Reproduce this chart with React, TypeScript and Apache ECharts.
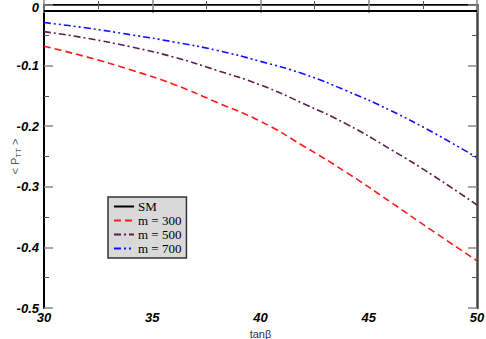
import React, { useEffect, useRef } from "react";
import * as echarts from "echarts";

const tanBeta = [30, 32, 34, 36, 38, 40, 42, 44, 46, 48, 50];
const smValues = [-0.01, -0.01, -0.01, -0.01, -0.01, -0.01, -0.01, -0.01, -0.01, -0.01, -0.01];
const m300 = [-0.068, -0.086, -0.107, -0.131, -0.161, -0.192, -0.233, -0.277, -0.325, -0.374, -0.422];
const m500 = [-0.044, -0.055, -0.069, -0.086, -0.108, -0.132, -0.163, -0.197, -0.238, -0.282, -0.33];
const m700 = [-0.029, -0.038, -0.049, -0.061, -0.075, -0.093, -0.114, -0.142, -0.174, -0.211, -0.252];
const seriesNames = ["SM", "m = 300", "m = 500", "m = 700"];

const pairs = (ys: number[]) => tanBeta.map((x, i) => [x, ys[i]]);

export default function App() {
  const ref = useRef<HTMLDivElement>(null);
  useEffect(() => {
    if (!ref.current) return;
    const chart = echarts.init(ref.current, null, { renderer: "svg" });
    const tickLabel = {
      fontFamily: "Liberation Sans",
      fontWeight: "bold" as const,
      fontStyle: "italic" as const,
      fontSize: 13,
      color: "#000",
    };
    const mkLine = (name: string, data: number[], color: string, type: any, width = 1.6) => ({
      name,
      type: "line",
      data: pairs(data),
      smooth: true,
      symbol: "none",
      lineStyle: { color, width, type },
      itemStyle: { color },
    });
    chart.setOption({
      animation: false,
      grid: { left: 44, right: 9, top: 5, bottom: 31, containLabel: false, outerBoundsMode: "none" },
      legend: {
        orient: "vertical",
        left: 108,
        top: 197,
        itemWidth: 20,
        itemHeight: 10,
        itemGap: 1,
        padding: [3, 5, 3, 5],
        backgroundColor: "#d9d9d9",
        borderColor: "#333",
        borderWidth: 1.5,
        borderRadius: 0,
        itemStyle: { opacity: 0 },
        data: seriesNames,
        textStyle: { fontFamily: "Liberation Serif", fontSize: 13, lineHeight: 12, color: "#000", padding: [0, 0, 0, -1] },
      },
      xAxis: [
        {
          type: "value",
          min: 30,
          max: 50,
          interval: 5,
          name: "tanβ",
          nameLocation: "middle",
          nameGap: 20,
          nameMoveOverlap: false,
          nameTextStyle: { fontFamily: "Liberation Sans", fontSize: 11, color: "#333" },
          axisLine: { lineStyle: { color: "#000", width: 2 } },
          axisTick: { inside: true, length: 8, lineStyle: { color: "#888", width: 1.5 } },
          minorTick: { show: true, splitNumber: 2, length: 4, lineStyle: { color: "#555", width: 1 } },
          axisLabel: { ...tickLabel, margin: 3 },
          splitLine: { show: false },
        },
        {
          type: "value",
          position: "top",
          min: 30,
          max: 50,
          interval: 5,
          axisLine: { show: true, onZero: false, lineStyle: { color: "#444", width: 1 } },
          axisTick: { inside: true, length: 8, lineStyle: { color: "#888", width: 1.5 } },
          minorTick: { show: true, splitNumber: 2, length: 4, lineStyle: { color: "#555", width: 1 } },
          axisLabel: { show: false },
          splitLine: { show: false },
        },
      ],
      yAxis: [
        {
          type: "value",
          min: -0.5,
          max: 0,
          interval: 0.1,
          name: "{a|< P}{s|TT}{a| >}",
          nameLocation: "middle",
          nameRotate: 90,
          nameGap: 22,
          nameMoveOverlap: false,
          nameTextStyle: {
            rich: {
              a: { fontFamily: "Liberation Sans", fontSize: 11, color: "#555" },
              s: { fontFamily: "Liberation Sans", fontSize: 8, color: "#555", verticalAlign: "bottom", padding: [6, 0, 0, 0] },
            },
          },
          axisLine: { onZero: false, lineStyle: { color: "#000", width: 2 } },
          axisTick: { inside: true, length: 9, lineStyle: { color: "#888", width: 1.5 } },
          minorTick: { show: true, splitNumber: 2, length: 5, lineStyle: { color: "#555", width: 1 } },
          axisLabel: {
            ...tickLabel,
            margin: 5,
            formatter: (v: number) => (Math.abs(v) < 1e-9 ? "{z|0}" : v.toFixed(1)),
            rich: {
              z: { ...tickLabel, padding: [4, 0, 0, 0] },
            },
          },
          splitLine: { show: false },
        },
        {
          type: "value",
          position: "right",
          min: -0.5,
          max: 0,
          interval: 0.1,
          axisLine: { show: true, onZero: false, lineStyle: { color: "#444", width: 2.5 } },
          axisTick: { inside: true, length: 9, lineStyle: { color: "#888", width: 1.5 } },
          minorTick: { show: true, splitNumber: 2, length: 5, lineStyle: { color: "#555", width: 1 } },
          axisLabel: { show: false },
          splitLine: { show: false },
        },
      ],
      series: [
        mkLine(seriesNames[0], smValues, "#000000", "solid", 2),
        mkLine(seriesNames[1], m300, "#ff1a1a", [7, 4]),
        mkLine(seriesNames[2], m500, "#5a1f4f", [7, 3, 2, 3]),
        mkLine(seriesNames[3], m700, "#1010ff", [7, 3, 2, 3, 2, 3]),
      ],
    });
    return () => chart.dispose();
  }, []);
  return <div ref={ref} style={{ width: 486, height: 339, position: "absolute", left: 0, top: 0 }} />;
}
